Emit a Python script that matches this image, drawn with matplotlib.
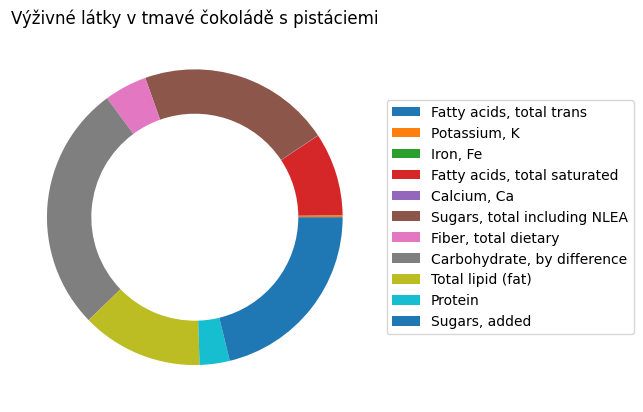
import matplotlib
matplotlib.use("Agg")
import matplotlib.pyplot as plt

labels = [
    "Fatty acids, total trans",
    "Potassium, K",
    "Iron, Fe",
    "Fatty acids, total saturated",
    "Calcium, Ca",
    "Sugars, total including NLEA",
    "Fiber, total dietary",
    "Carbohydrate, by difference",
    "Total lipid (fat)",
    "Protein",
    "Sugars, added",
]
values = [0.0, 0.37, 0.01, 15.05, 0.05, 35.0, 7.75, 45.0, 22.0, 5.45, 35.15]

fig, ax = plt.subplots()
wedges, _ = ax.pie(values, wedgeprops=dict(width=0.3))
ax.set_title("Výživné látky v tmavé čokoládě s pistáciemi")
ax.legend(wedges, labels, loc="center left", bbox_to_anchor=(1, 0.5))
plt.savefig("out.png", bbox_inches="tight")
